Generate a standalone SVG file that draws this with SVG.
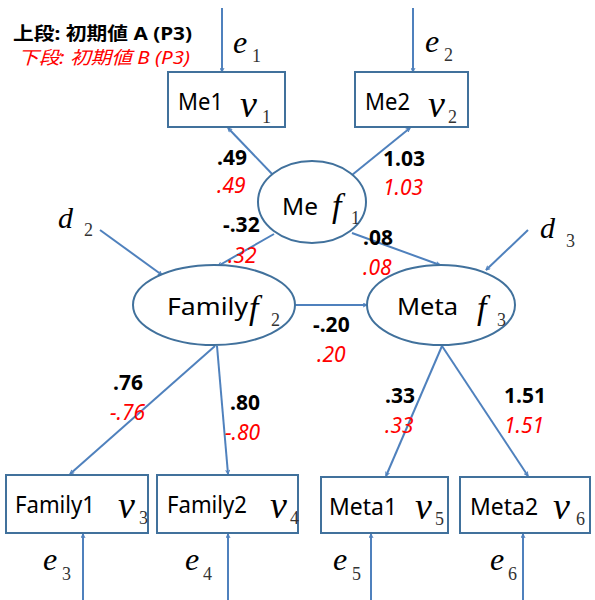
<svg xmlns="http://www.w3.org/2000/svg" width="595" height="600" viewBox="0 0 595 600">
<style>
.box{fill:#fff;stroke:#41719C;stroke-width:2}
.ell{fill:#fff;stroke:#41719C;stroke-width:2}
.con line{stroke:#4F81BD;stroke-width:2;marker-end:url(#arr)}
.lbl{font-family:"Noto Sans","Open Sans",sans-serif;font-size:23px;fill:#000}
.m{font-family:"Liberation Serif",serif;font-style:italic;fill:#000}
.s{font-family:"Liberation Serif",serif;font-size:18px;fill:#333}
.b{font-family:"Noto Sans","Open Sans",sans-serif;font-size:21px;font-weight:bold;fill:#000}
.r{font-family:"Noto Sans","Open Sans",sans-serif;font-size:21px;font-style:italic;fill:#FF0000}
.lg{font-family:"Noto Sans","Noto Sans CJK JP",sans-serif;font-size:18px}
</style>
<defs>
<marker id="arr" viewBox="0 0 10 10" refX="9" refY="5" markerWidth="5" markerHeight="5" orient="auto" markerUnits="userSpaceOnUse">
<path d="M1,1 L9,5 L1,9" fill="none" stroke="#4F81BD" stroke-width="2"/>
</marker>
</defs>
<rect width="595" height="600" fill="#fff"/>
<g id="legend">
<text class="lg" x="13" y="40" font-weight="bold" fill="#000" textLength="179" lengthAdjust="spacingAndGlyphs">上段: 初期値 A (P3)</text>
<text class="lg" x="18" y="64" font-style="italic" fill="#FF0000" textLength="172" lengthAdjust="spacingAndGlyphs">下段: 初期値 B (P3)</text>
</g>
<g class="con" id="connectors">
<line x1="222" y1="8" x2="222" y2="72"/>
<line x1="413" y1="8" x2="413" y2="72"/>
<line x1="274" y1="176" x2="228" y2="128"/>
<line x1="352" y1="175" x2="410" y2="128"/>
<line x1="274" y1="234" x2="218" y2="266"/>
<line x1="352" y1="233" x2="440" y2="265"/>
<line x1="100" y1="230" x2="162" y2="275"/>
<line x1="528" y1="230" x2="486" y2="270"/>
<line x1="295" y1="305" x2="367" y2="305"/>
<line x1="215" y1="346" x2="70" y2="474"/>
<line x1="217" y1="346" x2="228" y2="474"/>
<line x1="442" y1="346" x2="386" y2="476"/>
<line x1="442" y1="346" x2="528" y2="476"/>
<line x1="83" y1="600" x2="83" y2="534"/>
<line x1="228" y1="600" x2="228" y2="534"/>
<line x1="371" y1="600" x2="371" y2="534"/>
<line x1="523" y1="600" x2="523" y2="534"/>
</g>
<g id="e1"><text class="m" x="233" y="53" font-size="32">e</text><text class="s" x="252" y="62">1</text></g>
<g id="e2"><text class="m" x="425" y="52" font-size="32">e</text><text class="s" x="444" y="61">2</text></g>
<g id="Me1">
<rect class="box" x="168" y="72" width="117" height="55"/>
<text class="lbl" x="178" y="110" textLength="45" lengthAdjust="spacingAndGlyphs">Me1</text>
<text class="m" x="240" y="117" font-size="38">v</text><text class="s" x="262" y="123">1</text>
</g>
<g id="Me2">
<rect class="box" x="355" y="72" width="113" height="55"/>
<text class="lbl" x="365" y="110" textLength="45" lengthAdjust="spacingAndGlyphs">Me2</text>
<text class="m" x="428" y="117" font-size="38">v</text><text class="s" x="448" y="123">2</text>
</g>
<g id="Me">
<ellipse class="ell" cx="312" cy="202" rx="54" ry="41"/>
<text class="lbl" x="282" y="215" textLength="36" lengthAdjust="spacingAndGlyphs">Me</text>
<text class="m" x="332" y="217" font-size="34">f</text><text class="s" x="351" y="224">1</text>
</g>
<g id="Family">
<ellipse class="ell" cx="214" cy="305" rx="81" ry="40"/>
<text class="lbl" x="167" y="315" textLength="81" lengthAdjust="spacingAndGlyphs">Family</text>
<text class="m" x="249" y="319" font-size="34">f</text><text class="s" x="271" y="326">2</text>
</g>
<g id="Meta">
<ellipse class="ell" cx="441" cy="305" rx="74" ry="40"/>
<text class="lbl" x="397" y="315" textLength="61" lengthAdjust="spacingAndGlyphs">Meta</text>
<text class="m" x="477" y="319" font-size="34">f</text><text class="s" x="497" y="326">3</text>
</g>
<g id="d2"><text class="m" x="58" y="228" font-size="30">d</text><text class="s" x="84" y="236">2</text></g>
<g id="d3"><text class="m" x="540" y="238" font-size="30">d</text><text class="s" x="566" y="247">3</text></g>
<g id="Family1">
<rect class="box" x="6" y="475" width="142" height="58"/>
<text class="lbl" x="15" y="513" textLength="80" lengthAdjust="spacingAndGlyphs">Family1</text>
<text class="m" x="118" y="518" font-size="38">v</text><text class="s" x="139" y="524">3</text>
</g>
<g id="Family2">
<rect class="box" x="157" y="475" width="141" height="58"/>
<text class="lbl" x="167" y="513" textLength="80" lengthAdjust="spacingAndGlyphs">Family2</text>
<text class="m" x="270" y="518" font-size="38">v</text><text class="s" x="290" y="524">4</text>
</g>
<g id="Meta1">
<rect class="box" x="321" y="477" width="127" height="56"/>
<text class="lbl" x="329" y="515" textLength="68" lengthAdjust="spacingAndGlyphs">Meta1</text>
<text class="m" x="415" y="519" font-size="38">v</text><text class="s" x="435" y="525">5</text>
</g>
<g id="Meta2">
<rect class="box" x="460" y="477" width="130" height="56"/>
<text class="lbl" x="470" y="515" textLength="68" lengthAdjust="spacingAndGlyphs">Meta2</text>
<text class="m" x="553" y="519" font-size="38">v</text><text class="s" x="576" y="525">6</text>
</g>
<g id="e3"><text class="m" x="43" y="570" font-size="32">e</text><text class="s" x="62" y="580">3</text></g>
<g id="e4"><text class="m" x="185" y="570" font-size="32">e</text><text class="s" x="203" y="580">4</text></g>
<g id="e5"><text class="m" x="333" y="570" font-size="32">e</text><text class="s" x="352" y="580">5</text></g>
<g id="e6"><text class="m" x="490" y="570" font-size="32">e</text><text class="s" x="508" y="580">6</text></g>
<g id="values">
<text class="b" x="217" y="165">.49</text><text class="r" x="217" y="193">.49</text>
<text class="b" x="223" y="232">-.32</text><text class="r" x="228" y="263">.32</text>
<text class="b" x="383" y="166">1.03</text><text class="r" x="383" y="195">1.03</text>
<text class="b" x="363" y="245">.08</text><text class="r" x="363" y="275">.08</text>
<text class="b" x="313" y="332">-.20</text><text class="r" x="317" y="362">.20</text>
<text class="b" x="113" y="390">.76</text><text class="r" x="110" y="420">-.76</text>
<text class="b" x="230" y="410">.80</text><text class="r" x="225" y="440">-.80</text>
<text class="b" x="385" y="403">.33</text><text class="r" x="385" y="433">.33</text>
<text class="b" x="504" y="403">1.51</text><text class="r" x="504" y="433">1.51</text>
</g>
</svg>
